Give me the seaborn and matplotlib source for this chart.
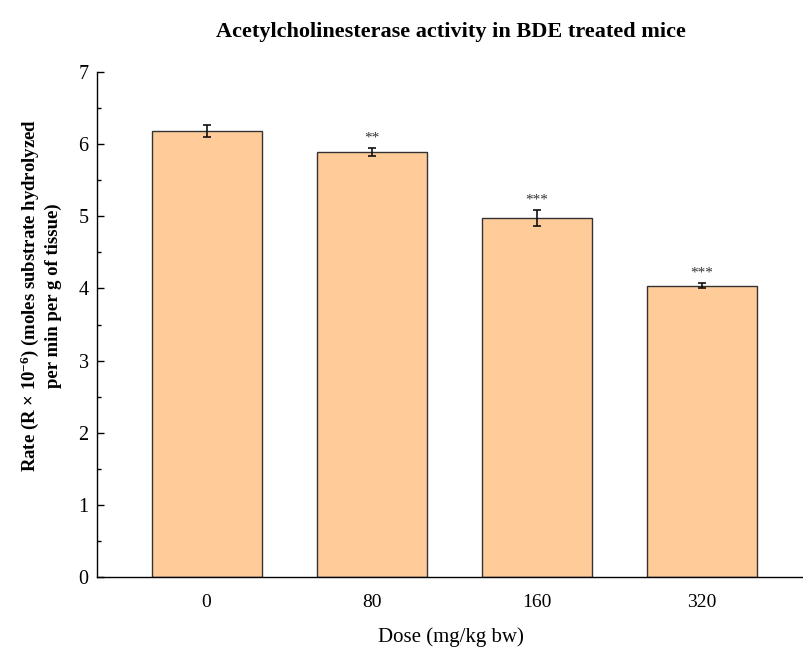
import matplotlib
matplotlib.use("Agg")
import matplotlib.pyplot as plt
import seaborn as sns
import pandas as pd
from matplotlib.ticker import MultipleLocator

doses = ["0", "80", "160", "320"]
rates = [6.18, 5.89, 4.98, 4.04]
errors = [0.08, 0.055, 0.11, 0.035]
stars = ["", "**", "***", "***"]

sns.set_theme(style="ticks")
plt.rcParams["font.family"] = ["Liberation Serif", "DejaVu Serif"]
plt.rcParams["mathtext.fontset"] = "custom"
plt.rcParams["mathtext.rm"] = "Liberation Serif"
plt.rcParams["mathtext.bf"] = "Liberation Serif:bold"
plt.rcParams["mathtext.default"] = "regular"
plt.rcParams["text.color"] = "black"
plt.rcParams["axes.labelcolor"] = "black"
plt.rcParams["xtick.color"] = "black"
plt.rcParams["ytick.color"] = "black"

df = pd.DataFrame({"Dose": doses, "Rate": rates})

fig = plt.figure(figsize=(8.04, 6.49), dpi=100)
ax = fig.add_axes([97 / 804, 1 - 577 / 649, 1 - 97 / 804, (577 - 72) / 649])

sns.barplot(data=df, x="Dose", y="Rate", order=doses, color="#FFCC99",
            saturation=1, width=0.667, edgecolor="#333333", linewidth=1.0,
            errorbar=None, ax=ax)
ax.errorbar(range(len(doses)), rates, yerr=errors, fmt="none",
            ecolor="#111111", elinewidth=1.2, capsize=3, capthick=1.2)
for i, (r, e, s) in enumerate(zip(rates, errors, stars)):
    if s:
        ax.text(i, r + e + 0.14, s, ha="center", va="center", fontsize=11,
                color="#333333")

ax.set_xlim(-0.664, 3.62)
ax.set_ylim(0, 7)
ax.yaxis.set_major_locator(MultipleLocator(1))
ax.yaxis.set_minor_locator(MultipleLocator(0.5))
ax.tick_params(axis="y", which="major", direction="in", length=5, width=1,
               labelsize=14.5, pad=6, color="black", labelcolor="black")
ax.tick_params(axis="y", which="minor", direction="in", length=3, width=1,
               color="black")
ax.tick_params(axis="x", length=0, labelsize=14, pad=12, labelcolor="black")
for sp in ["top", "right"]:
    ax.spines[sp].set_visible(False)
for sp in ["left", "bottom"]:
    ax.spines[sp].set_color("black")
    ax.spines[sp].set_linewidth(1.0)

ax.set_xlabel("Dose (mg/kg bw)", fontsize=15, labelpad=12, color="black")
ax.set_ylabel("Rate (R × 10$^{-6}$) (moles substrate hydrolyzed\nper min per g of tissue)",
              fontsize=13.5, fontweight="bold", multialignment="center",
              linespacing=1.25, color="black")
ax.yaxis.set_label_coords(-0.08, 0.558)
ax.yaxis.label.set_va("center")
ax.set_title("Acetylcholinesterase activity in BDE treated mice",
             fontsize=16, fontweight="bold", pad=25, color="black")

fig.savefig("out.png", dpi=100)
